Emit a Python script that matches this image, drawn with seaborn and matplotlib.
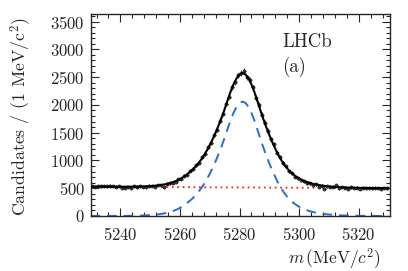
import numpy as np
import pandas as pd
import matplotlib
matplotlib.use("Agg")
import matplotlib.pyplot as plt
import seaborn as sns
from matplotlib.ticker import MultipleLocator

# Mass grid for the fit curves (1 MeV steps)
m_grid = list(range(5230, 5331))

# Signal component (blue dashed)
signal = [0, 0, 1, 1, 1, 1, 1, 1, 1, 1,
          1, 2, 2, 3, 4, 5, 6, 8, 10, 13,
          16, 20, 25, 32, 40, 50, 63, 78, 96, 118,
          145, 178, 215, 260, 305, 360, 420, 490, 570, 660,
          760, 870, 990, 1120, 1260, 1410, 1570, 1725, 1860, 1965,
          2035, 2060, 2035, 1965, 1855, 1715, 1555, 1390, 1230, 1080,
          945, 815, 700, 590, 495, 415, 345, 288, 240, 200,
          166, 138, 115, 96, 80, 67, 56, 47, 39, 32,
          27, 22, 18, 15, 12, 10, 8, 7, 6, 5,
          4, 3, 3, 2, 2, 2, 1, 1, 1, 1, 1]

# Total fit (black solid)
total = [528, 528, 528, 528, 528, 528, 527, 527, 527, 526,
         526, 527, 527, 527, 528, 529, 530, 531, 533, 536,
         538, 542, 547, 554, 561, 571, 584, 598, 616, 638,
         665, 697, 734, 778, 823, 878, 938, 1007, 1087, 1177,
         1277, 1386, 1506, 1636, 1775, 1925, 2085, 2240, 2374, 2479,
         2549, 2574, 2548, 2478, 2368, 2228, 2067, 1902, 1742, 1591,
         1456, 1326, 1211, 1100, 1005, 925, 855, 797, 749, 709,
         674, 646, 623, 604, 587, 574, 563, 553, 545, 538,
         533, 527, 523, 520, 517, 514, 512, 511, 509, 508,
         507, 506, 505, 504, 504, 503, 502, 502, 502, 501, 501]

# Background (red dotted, straight line)
bkg_m = [5230, 5330]
bkg_y = [528, 500]

# Data: bin centres and candidates per bin
data_m = [5230.5 + i for i in range(100)]
data_y = [535, 528, 540, 533, 537, 531, 544, 538, 526, 539,
          512, 505, 521, 510, 533, 517, 541, 522, 530, 546,
          538, 527, 556, 549, 515, 581, 585, 602, 619, 661,
          672, 726, 741, 812, 846, 913, 962, 1060, 1118, 1236,
          1320, 1462, 1556, 1716, 1838, 2023, 2149, 2318, 2415, 2530,
          2570, 2611, 2497, 2446, 2318, 2133, 1999, 1826, 1682, 1536,
          1383, 1291, 1143, 1064, 955, 896, 802, 771, 709, 683,
          640, 625, 589, 587, 558, 572, 530, 548, 489, 533,
          519, 530, 558, 497, 521, 512, 492, 517, 506, 509,
          483, 512, 497, 508, 495, 510, 501, 489, 507, 498]

curves = pd.DataFrame({"m": m_grid, "signal": signal, "total": total})
bkg = pd.DataFrame({"m": bkg_m, "bkg": bkg_y})

sns.set_style("ticks")
plt.rcParams["font.family"] = "serif"
plt.rcParams["font.serif"] = ["cmr10", "DejaVu Serif"]
plt.rcParams["mathtext.fontset"] = "cm"
plt.rcParams["axes.formatter.use_mathtext"] = True

fig = plt.figure(figsize=(4.08, 2.71), dpi=100)
ax = fig.add_axes([0.222, 0.203, 0.734, 0.744])

sns.lineplot(data=bkg, x="m", y="bkg", ax=ax, color="#ff2020",
             linestyle=(0, (1, 2)), linewidth=1.3)
sns.lineplot(data=curves, x="m", y="signal", ax=ax, color="#2a6fcb",
             linestyle=(0, (5, 3.5)), linewidth=1.4)
ax.errorbar(data_m, data_y, xerr=0.5, yerr=np.sqrt(data_y), fmt="o",
            color="#333333", ms=1.8, elinewidth=0.7, capsize=0, zorder=3)
sns.lineplot(data=curves, x="m", y="total", ax=ax, color="black",
             linewidth=1.5, zorder=4)

ax.set_xlim(5230, 5330.5)
ax.set_ylim(0, 3630)
ax.xaxis.set_major_locator(MultipleLocator(20))
ax.xaxis.set_minor_locator(MultipleLocator(4))
ax.yaxis.set_major_locator(MultipleLocator(500))
ax.yaxis.set_minor_locator(MultipleLocator(100))
ax.tick_params(which="both", direction="in", top=True, right=True,
               labelsize=12, width=0.8)
ax.tick_params(axis="x", which="major", length=6, pad=7)
ax.tick_params(axis="y", which="major", length=6, pad=4)
ax.tick_params(which="minor", length=3)
for s in ax.spines.values():
    s.set_linewidth(1.0)

ax.set_xlabel(r"$m\,(\mathrm{MeV}/c^{2})$", fontsize=12.5, ha="right")
ax.xaxis.set_label_coords(0.97, -0.155)
ax.set_ylabel(r"Candidates / (1 MeV/c$^{2}$)", fontsize=12.8, ha="right")
ax.yaxis.set_label_coords(-0.19, 0.985)

ax.text(0.64, 0.865, "LHCb", transform=ax.transAxes, fontsize=13.5,
        va="center", ha="left")
ax.text(0.64, 0.74, "(a)", transform=ax.transAxes, fontsize=13.5,
        va="center", ha="left")

fig.savefig("out.png", dpi=100)
